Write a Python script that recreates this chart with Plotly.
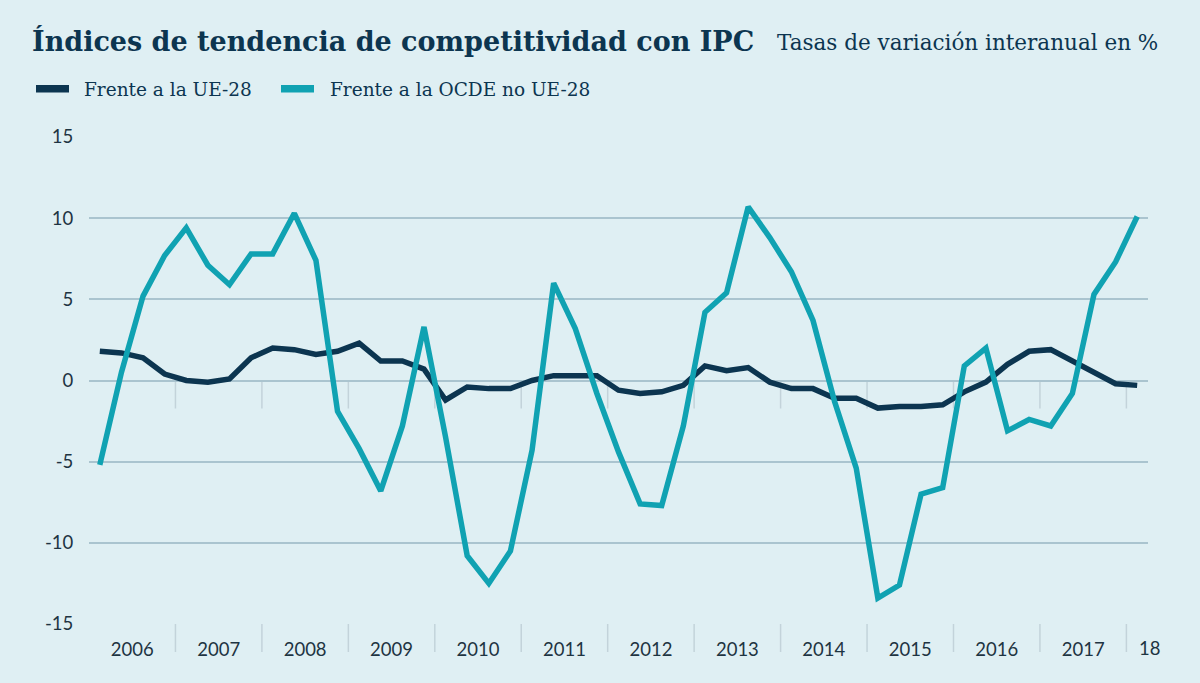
import plotly.graph_objects as go

# ---- data (quarterly, 2006 Q1 .. 2018 Q1) ----
years = list(range(2006, 2019))
year_labels = ["2006", "2007", "2008", "2009", "2010", "2011", "2012",
               "2013", "2014", "2015", "2016", "2017", "18"]
quarters = [(y, q) for y in range(2006, 2018) for q in range(1, 5)] + [(2018, 1)]

ue28 = [1.8, 1.7, 1.4, 0.4, 0.0, -0.1, 0.1, 1.4, 2.0, 1.9, 1.6, 1.8,
        2.3, 1.2, 1.2, 0.7, -1.2, -0.4, -0.5, -0.5, 0.0, 0.3, 0.3, 0.3,
        -0.6, -0.8, -0.7, -0.3, 0.9, 0.6, 0.8, -0.1, -0.5, -0.5, -1.1, -1.1,
        -1.7, -1.6, -1.6, -1.5, -0.7, -0.1, 1.0, 1.8, 1.9, 1.2, 0.5, -0.2,
        -0.3]
ocde_no_ue28 = [-5.2, 0.5, 5.2, 7.7, 9.4, 7.1, 5.9, 7.8, 7.8, 10.3, 7.4, -1.9,
                -4.2, -6.8, -2.8, 3.3, -3.5, -10.8, -12.5, -10.5, -4.3, 6.0, 3.2, -0.8,
                -4.4, -7.6, -7.7, -2.8, 4.2, 5.4, 10.7, 8.8, 6.7, 3.7, -1.3, -5.4,
                -13.4, -12.6, -7.0, -6.6, 0.9, 2.0, -3.1, -2.4, -2.8, -0.8, 5.3, 7.3,
                10.1]
series_names = ["Frente a la UE-28", "Frente a la OCDE no UE-28"]
y_ticks = [-15, -10, -5, 0, 5, 10, 15]
y_ticktext = ["-15", "-10", "-5", "0", "5", "10", "15"]

x = [y + (q - 0.5) / 4 for (y, q) in quarters]

BG = "#dfeff3"
DARK = "#0c3550"
TEAL = "#10a2b2"
GRID = "#aac4cf"
DIV = "#c3d3da"
TXT = "#1e3442"

fig = go.Figure()
fig.add_trace(go.Scatter(x=x, y=ue28, mode="lines", name=series_names[0],
                         line=dict(color=DARK, width=5.5, shape="linear")))
fig.add_trace(go.Scatter(x=x, y=ocde_no_ue28, mode="lines", name=series_names[1],
                         line=dict(color=TEAL, width=5.5, shape="linear")))

# plot geometry in px
L, R, T, B = 89, 52, 137, 59
W, H = 1200, 683
pw, ph = W - L - R, H - T - B
def px(xp):
    return (xp - L) / pw
def py(yp):
    return (H - B - yp) / ph

# year dividers (at zero line and at the bottom axis)
shapes = []
for yv in years[1:]:
    shapes.append(dict(type="line", xref="x", yref="y", x0=yv, x1=yv,
                       ysizemode="pixel", yanchor=0, y0=0, y1=-28,
                       line=dict(color=DIV, width=1.5), layer="below"))
    shapes.append(dict(type="line", xref="x", yref="paper", x0=yv, x1=yv,
                       ysizemode="pixel", yanchor=0, y0=0, y1=-28,
                       line=dict(color=DIV, width=1.5), layer="below"))

# custom legend
leg = [(36, 69, 83, DARK, series_names[0]), (281, 314, 329, TEAL, series_names[1])]
annotations = []
for x0, x1, xt, col, name in leg:
    shapes.append(dict(type="rect", xref="paper", yref="paper",
                       x0=px(x0), x1=px(x1), y0=py(92.5), y1=py(85),
                       fillcolor=col, line=dict(width=0)))
    annotations.append(dict(text=name, xref="paper", yref="paper", x=px(xt - 1), y=py(89),
                            xanchor="left", yanchor="middle", showarrow=False,
                            font=dict(family="DejaVu Serif", size=18.5, color=DARK)))

annotations += [
    dict(text="<b>Índices de tendencia de competitividad con IPC</b>",
         xref="paper", yref="paper", x=px(30), y=py(59), xanchor="left", yanchor="bottom",
         showarrow=False, font=dict(family="DejaVu Serif", size=27, color=DARK)),
    dict(text="Tasas de variación interanual en %",
         xref="paper", yref="paper", x=px(775), y=py(57), xanchor="left", yanchor="bottom",
         showarrow=False, font=dict(family="DejaVu Serif", size=21.5, color=DARK)),
    # last (partial) year label sits just right of the plot end
    dict(text=year_labels[-1], xref="paper", yref="paper", x=px(1149), y=py(648),
         xanchor="center", yanchor="middle", showarrow=False,
         font=dict(family="Lato", size=18.5, color=TXT)),
]

fig.update_layout(
    width=W, height=H,
    paper_bgcolor=BG, plot_bgcolor=BG,
    margin=dict(l=L, r=R, t=T, b=B, pad=0),
    showlegend=False,
    shapes=shapes,
    annotations=annotations,
    xaxis=dict(range=[2006, 2018.25], tickvals=[y + 0.5 for y in years[:-1]],
               ticktext=year_labels[:-1], ticks="outside", ticklen=9, tickcolor="rgba(0,0,0,0)",
               showgrid=False, zeroline=False, showline=False,
               tickfont=dict(family="Lato", size=18.5, color=TXT)),
    yaxis=dict(range=[-15, 15], tickvals=y_ticks, ticktext=y_ticktext,
               ticks="outside", ticklen=11, tickcolor="rgba(0,0,0,0)",
               showgrid=True, gridcolor=GRID, gridwidth=1.5, zeroline=False, showline=False,
               tickfont=dict(family="Lato", size=18.5, color=TXT)),
)

fig.write_html("out.html", config={"displayModeBar": False},
               post_script="document.body.style.margin='0';document.body.style.background='%s';" % BG)
